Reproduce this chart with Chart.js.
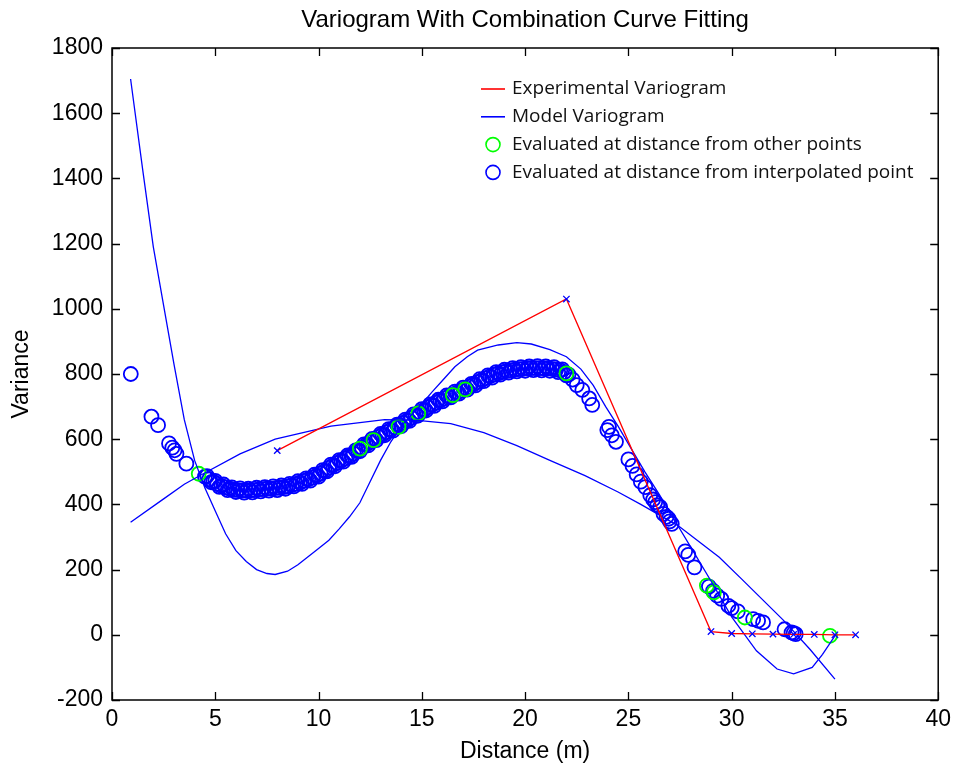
<!DOCTYPE html>
<html>
<head>
<meta charset="utf-8">
<title>Variogram With Combination Curve Fitting</title>
<script src="https://cdn.jsdelivr.net/npm/chart.js@4.4.1/dist/chart.umd.min.js"></script>
<style>
  html, body { margin: 0; padding: 0; background: #fff; }
</style>
</head>
<body>
<canvas id="myChart" width="957" height="771"></canvas>
<script>
// experimental variogram (red line, blue x markers)
var expX = [8, 22, 29, 30, 31, 32, 33, 34, 35, 36];
var expY = [565, 1030, 10, 4, 3, 2, 1, 1, 0, 0];

// model variogram, first branch
var modelAX = [0.9, 1.5, 2.0, 2.5, 3.0, 3.5, 4.0, 4.5, 5.0, 5.5, 6.0, 6.5, 7.0, 7.5, 7.9, 8.5, 9.0, 10.0, 10.5, 11.0,
               11.5, 12.0, 12.5, 13.0, 13.5, 14.0, 14.5, 15.0, 15.5, 16.0, 16.6, 17.2, 17.7, 18.7, 19.6, 20.3, 21.2, 22.0, 22.7, 23.3,
               23.9, 24.5, 25.1, 25.8, 26.5, 27.35, 28.2, 29.0, 30.0, 31.2, 32.2, 33.0, 33.9, 34.4, 35.0];
var modelAY = [1705, 1420, 1190, 1010, 830, 660, 535, 450, 380, 310, 258, 225, 200, 188, 185, 195, 215, 265, 290, 325,
               362, 405, 470, 535, 592, 640, 675, 708, 745, 780, 822, 853, 873, 889, 896, 892, 875, 853, 815, 765,
               700, 640, 575, 500, 430, 340, 250, 165, 55, -49, -105, -120, -100, -60, -3];

// model variogram, second branch
var modelBX = [0.9, 2.5, 3.5, 4.24, 6.2, 7.9, 10.6, 13.2, 14.8, 16.4, 18.0, 19.6, 21.2, 22.9, 24.5, 25.6, 27.4, 29.4, 30.5, 32.5, 33.8, 35.0];
var modelBY = [345, 417, 462, 488, 555, 600, 640, 660, 658, 648, 620, 580, 535, 488, 438, 400, 335, 238, 170, 45, -45, -136];

// evaluated at distance from other points (green circles)
var greenX = [4.2, 12.0, 12.66, 13.87, 14.83, 16.5, 17.1, 22.0, 28.8, 29.14, 30.64, 34.76];
var greenY = [494, 571, 597, 638, 679, 735, 753, 802, 151, 130, 53, -3];

// evaluated at distance from interpolated point (blue circles)
var blueX = [0.91, 1.91, 2.23, 2.76, 2.92, 3.03, 3.12, 3.6,
  4.5, 4.7, 4.9, 5.1, 5.3, 5.5, 5.7, 5.9, 6.1, 6.3, 6.5, 6.7, 6.9, 7.1, 7.3, 7.5, 7.7, 7.9, 8.1, 8.3, 8.5, 8.7,
  8.9, 9.1, 9.3, 9.5, 9.7, 9.9, 10.1, 10.3, 10.5, 10.7, 10.9, 11.1, 11.3, 11.5, 11.7, 11.9, 12.1, 12.3, 12.5, 12.7,
  12.9, 13.1, 13.3, 13.5, 13.7, 13.9, 14.1, 14.3, 14.5, 14.7, 14.9, 15.1, 15.3, 15.5, 15.7, 15.9, 16.1, 16.3, 16.5, 16.7,
  16.9, 17.1, 17.3, 17.5, 17.7, 17.9, 18.1, 18.3, 18.5, 18.7, 18.9, 19.1, 19.3, 19.5, 19.7, 19.9, 20.1, 20.3, 20.5, 20.7,
  20.9, 21.1, 21.3, 21.5, 21.7, 21.9, 22.1,
  22.3, 22.5, 22.77, 23.1, 23.25, 23.98, 24.06, 24.2, 24.4, 25.0, 25.2, 25.4, 25.6, 25.82, 26.06, 26.2, 26.3, 26.4, 26.54, 26.7,
  26.85, 26.95, 27.0, 27.1, 27.75, 27.9, 28.2, 28.9, 29.1, 29.3, 29.5, 29.84, 30.0, 30.3, 31.04, 31.28, 31.52, 32.56, 32.9, 33.0, 33.1];
var blueY = [800, 669, 643, 587, 574, 566, 555, 525,
  485, 477, 470, 463, 457, 452, 448, 445, 444, 442, 442, 443, 444, 446, 447, 448, 448, 450, 451, 453, 455, 459,
  463, 467, 472, 477, 482, 488, 495, 503, 512, 520, 527, 534, 541, 548, 556, 565, 574, 583, 591, 599,
  607, 614, 622, 629, 636, 643, 650, 658, 666, 674, 682, 690, 698, 705, 712, 719, 725, 731, 737, 743,
  749, 755, 761, 768, 775, 781, 787, 793, 798, 802, 806, 809, 811, 813, 815, 816, 817, 818, 818, 818,
  817, 817, 816, 814, 811, 806, 798,
  783, 766, 751, 725, 705, 628, 638, 612, 592, 538, 518, 492, 470, 453, 428, 415, 407, 398, 392, 371,
  362, 356, 348, 340, 256, 245, 207, 148, 135, 120, 110, 89, 82, 72, 48, 43, 38, 17, 7, 5, 2];

// second row of blue circles inside the dense band
var bandX = [4.6, 4.8, 5.0, 5.2, 5.4, 5.6, 5.8, 6.0, 6.2, 6.4, 6.6, 6.8, 7.0, 7.2, 7.4, 7.6, 7.8, 8.0, 8.2, 8.4,
  8.6, 8.8, 9.0, 9.2, 9.4, 9.6, 9.8, 10.0, 10.2, 10.4, 10.6, 10.8, 11.0, 11.2, 11.4, 11.6, 11.8, 12.0, 12.2, 12.4,
  12.6, 12.8, 13.0, 13.2, 13.4, 13.6, 13.8, 14.0, 14.2, 14.4, 14.6, 14.8, 15.0, 15.2, 15.4, 15.6, 15.8, 16.0, 16.2, 16.4,
  16.6, 16.8, 17.0, 17.2, 17.4, 17.6, 17.8, 18.0, 18.2, 18.4, 18.6, 18.8, 19.0, 19.2, 19.4, 19.6, 19.8, 20.0, 20.2, 20.4,
  20.6, 20.8, 21.0, 21.2, 21.4, 21.6, 21.8, 22.0];
var bandY = [487, 468, 472, 454, 461, 444, 452, 438, 449, 436, 448, 437, 451, 440, 453, 442, 455, 444, 458, 448,
  463, 455, 471, 463, 480, 473, 491, 485, 505, 501, 522, 517, 536, 531, 550, 546, 566, 563, 584, 581,
  601, 597, 616, 612, 631, 626, 645, 640, 660, 656, 676, 672, 692, 688, 707, 702, 721, 716, 734, 728,
  746, 740, 758, 752, 770, 765, 784, 778, 796, 789, 806, 798, 813, 804, 818, 808, 821, 810, 823, 812,
  824, 811, 823, 810, 821, 806, 814, 796];

var xTicks = [0, 40, 5];
var yTicks = [-200, 1800, 200];

function pts(xs, ys) {
    var out = [];
    for (var i = 0; i < xs.length; i++) out.push({ x: xs[i], y: ys[i] });
    return out;
}

var RED = '#ff0000', BLUE = '#0000ff', GREEN = '#00ff00';
var axisFont = { family: 'Liberation Sans, Arial, sans-serif', size: 23 };

// matlab style box, inward ticks, title and legend inside the axes
var matlabPlugin = {
    id: 'matlabBox',
    afterDraw: function (chart) {
        var ctx = chart.ctx, a = chart.chartArea;
        var sx = chart.scales.x, sy = chart.scales.y;
        ctx.save();
        ctx.strokeStyle = '#000';
        ctx.lineWidth = 1.5;
        ctx.strokeRect(a.left, a.top, a.right - a.left, a.bottom - a.top);
        ctx.lineWidth = 1.3;
        ctx.beginPath();
        sx.ticks.forEach(function (t) {
            var px = Math.round(sx.getPixelForValue(t.value)) + 0.5;
            ctx.moveTo(px, a.bottom); ctx.lineTo(px, a.bottom - 8);
            ctx.moveTo(px, a.top); ctx.lineTo(px, a.top + 8);
        });
        sy.ticks.forEach(function (t) {
            var py = Math.round(sy.getPixelForValue(t.value)) + 0.5;
            ctx.moveTo(a.left, py); ctx.lineTo(a.left + 8, py);
            ctx.moveTo(a.right, py); ctx.lineTo(a.right - 8, py);
        });
        ctx.stroke();

        // title
        ctx.fillStyle = '#000';
        ctx.font = '24px Liberation Sans, Arial, sans-serif';
        ctx.textAlign = 'center';
        ctx.textBaseline = 'middle';
        ctx.fillText('Variogram With Combination Curve Fitting', (a.left + a.right) / 2, 20);

        // legend
        ctx.font = '19px "Open Sans", sans-serif';
        ctx.textAlign = 'left';
        var rowY = 89;
        chart.data.datasets.forEach(function (ds) {
            if (ds.noLegend) return;
            ctx.lineWidth = 1.6;
            ctx.strokeStyle = ds.borderColor;
            ctx.beginPath();
            if (ds.showLine) {
                ctx.moveTo(481, rowY); ctx.lineTo(505, rowY);
            } else {
                ctx.arc(493, rowY, 7, 0, Math.PI * 2);
            }
            ctx.stroke();
            ctx.fillStyle = '#111';
            ctx.fillText(ds.label, 512, rowY);
            rowY += 27.8;
        });
        ctx.restore();
    }
};

var ctx = document.getElementById('myChart');
var myChart = new Chart(ctx, {
    type: 'scatter',
    data: {
        datasets: [{
            label: 'Experimental Variogram',
            data: pts(expX, expY),
            showLine: true,
            borderColor: RED,
            borderWidth: 1.3,
            pointStyle: 'crossRot',
            pointRadius: 4.5,
            pointBorderColor: BLUE,
            pointBackgroundColor: BLUE,
            pointBorderWidth: 1.3,
            order: 1
        }, {
            label: 'Model Variogram',
            data: pts(modelAX, modelAY),
            showLine: true,
            borderColor: BLUE,
            borderWidth: 1.3,
            pointRadius: 0,
            order: 2
        }, {
            label: 'Model Variogram',
            noLegend: true,
            data: pts(modelBX, modelBY),
            showLine: true,
            borderColor: BLUE,
            borderWidth: 1.3,
            pointRadius: 0,
            order: 2
        }, {
            label: 'Evaluated at distance from other points',
            data: pts(greenX, greenY),
            showLine: false,
            pointStyle: 'circle',
            pointRadius: 7,
            borderColor: GREEN,
            backgroundColor: 'rgba(0,0,0,0)',
            borderWidth: 1.8,
            order: 3
        }, {
            label: 'Evaluated at distance from interpolated point',
            data: pts(blueX, blueY).concat(pts(bandX, bandY)),
            showLine: false,
            pointStyle: 'circle',
            pointRadius: 7,
            borderColor: BLUE,
            backgroundColor: 'rgba(0,0,0,0)',
            borderWidth: 1.8,
            order: 4
        }]
    },
    options: {
        responsive: false,
        animation: false,
        devicePixelRatio: 1,
        layout: { padding: { top: 48, right: 14, left: 0, bottom: 0 } },
        plugins: {
            legend: { display: false },
            title: { display: false },
            tooltip: { enabled: false }
        },
        scales: {
            x: {
                type: 'linear',
                min: xTicks[0], max: xTicks[1],
                afterFit: function (scale) { scale.height = 71; },
                grid: { display: false, drawTicks: false },
                border: { display: false },
                ticks: { stepSize: xTicks[2], color: '#000', font: axisFont, padding: 6, maxRotation: 0,
                         callback: function (v) { return String(v); } },
                title: { display: true, text: 'Distance (m)', color: '#000', font: axisFont, padding: { top: 0, bottom: 6 } }
            },
            y: {
                min: yTicks[0], max: yTicks[1],
                afterFit: function (scale) { scale.width = 112; },
                grid: { display: false, drawTicks: false },
                border: { display: false },
                ticks: { stepSize: yTicks[2], color: '#000', font: axisFont, padding: 9,
                         callback: function (v) { return String(v); } },
                title: { display: true, text: 'Variance', color: '#000', font: axisFont, padding: { top: 8, bottom: 0 } }
            }
        }
    },
    plugins: [matlabPlugin]
});
</script>
</body>
</html>
